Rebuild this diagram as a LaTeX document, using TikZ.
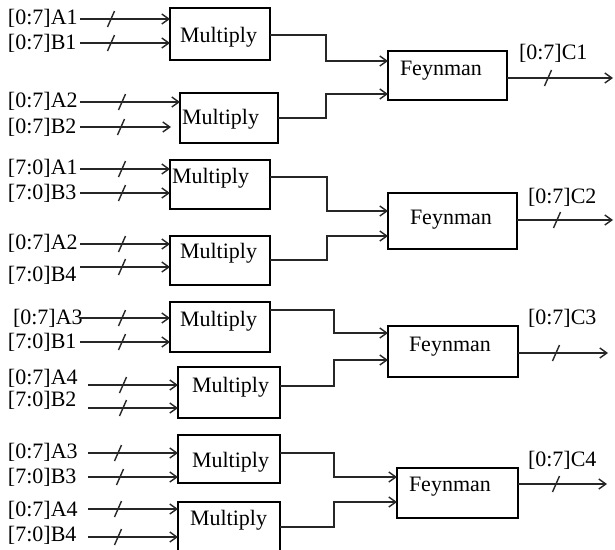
\documentclass[tikz,border=0pt]{standalone}
\usepackage{fontspec}
\setmainfont{Liberation Serif}
\usetikzlibrary{arrows.meta,calc}
\begin{document}
\begin{tikzpicture}[x=1pt,y=-1pt,
  every node/.style={font=\fontsize{22}{24}\selectfont, inner sep=0pt, outer sep=0pt},
  blk/.style={draw=black, line width=2.7pt, rectangle, fill=white},
  lbl/.style={anchor=west},
  txt/.style={anchor=base west},
  sig/.style={draw=black!85, line width=1.4pt, -{Straight Barb[length=7pt,width=10pt,line width=1.4pt]}},
  busmark/.style={draw=black!85, line width=1.4pt}]
\clip (0,0) rectangle (615,549);
\useasboundingbox (0,0) rectangle (615,549);
\fill[white] (0,0) rectangle (615,549);

% ---------- boxes ----------
\node[blk, minimum width=100pt, minimum height=52pt] (m1) at (220,34) {};
\node[blk, minimum width=98pt,  minimum height=50pt] (m2) at (229,118) {};
\node[blk, minimum width=100pt, minimum height=49pt] (m3) at (220,184.5) {};
\node[blk, minimum width=100pt, minimum height=49pt] (m4) at (220,260.5) {};
\node[blk, minimum width=100pt, minimum height=50pt] (m5) at (220,327) {};
\node[blk, minimum width=102pt, minimum height=51pt] (m6) at (229,392.5) {};
\node[blk, minimum width=102pt, minimum height=48pt] (m7) at (229,459) {};
\node[blk, minimum width=102pt, minimum height=58pt] (m8) at (229,531) {};
\node[blk, minimum width=119pt, minimum height=49pt] (f1) at (447.5,75.5) {};
\node[blk, minimum width=129pt, minimum height=56pt] (f2) at (452.5,221) {};
\node[blk, minimum width=130pt, minimum height=51pt] (f3) at (453,351.5) {};
\node[blk, minimum width=121pt, minimum height=50pt] (f4) at (457.5,493) {};

% ---------- box texts ----------
\node[txt] (tm1) at (180,42) {Multiply};
\node[txt] (tm2) at (182,124) {Multiply};
\node[txt] (tm3) at (172,183) {Multiply};
\node[txt] (tm4) at (180,258) {Multiply};
\node[txt] (tm5) at (180,326) {Multiply};
\node[txt] (tm6) at (192,392) {Multiply};
\node[txt] (tm7) at (192,467) {Multiply};
\node[txt] (tm8) at (190,525) {Multiply};
\node[txt] (tf1) at (400,75) {Feynman};
\node[txt] (tf2) at (410,224) {Feynman};
\node[txt] (tf3) at (409,351) {Feynman};
\node[txt] (tf4) at (409,491) {Feynman};

% ---------- input labels ----------
\node[lbl] (la1) at (8,18.5) {[0:7]A1};
\node[lbl] (lb1) at (8,43.5) {[0:7]B1};
\node[lbl] (la2) at (8,101) {[0:7]A2};
\node[lbl] (lb2) at (8,127) {[0:7]B2};
\node[lbl] (la3) at (8,168) {[7:0]A1};
\node[lbl] (lb3) at (8,193) {[7:0]B3};
\node[lbl] (la4) at (8,243) {[0:7]A2};
\node[lbl] (lb4) at (8,275) {[7:0]B4};
\node[lbl] (la5) at (13,318) {[0:7]A3};
\node[lbl] (lb5) at (8,342) {[7:0]B1};
\node[lbl] (la6) at (8,378) {[0:7]A4};
\node[lbl] (lb6) at (8,400) {[7:0]B2};
\node[lbl] (la7) at (8,452) {[0:7]A3};
\node[lbl] (lb7) at (8,477) {[7:0]B3};
\node[lbl] (la8) at (8,510) {[0:7]A4};
\node[lbl] (lb8) at (8,535) {[7:0]B4};

% ---------- output labels ----------
\node[lbl] (lc1) at (519,53) {[0:7]C1};
\node[lbl] (lc2) at (528,197) {[0:7]C2};
\node[lbl] (lc3) at (528,318) {[0:7]C3};
\node[lbl] (lc4) at (528,460) {[0:7]C4};

% ---------- input wire starts ----------
\coordinate (sa1) at (80,19);
\coordinate (sb1) at (80,43);
\coordinate (sa2) at (80,102);
\coordinate (sb2) at (80,127);
\coordinate (sa3) at (80,169);
\coordinate (sb3) at (80,193);
\coordinate (sa4) at (80,244);
\coordinate (sb4) at (80,267);
\coordinate (sa5) at (80,318);
\coordinate (sb5) at (80,342);
\coordinate (sa6) at (88,385);
\coordinate (sb6) at (88,408);
\coordinate (sa7) at (88,453);
\coordinate (sb7) at (88,477);
\coordinate (sa8) at (88,509);
\coordinate (sb8) at (88,537);

% ---------- input arrows ----------
\draw[sig] (sa1) -- (m1.west |- sa1);
\draw[sig] (sb1) -- (m1.west |- sb1);
\draw[sig] (sa2) -- (m2.west |- sa2);
\draw[sig, shorten >=9pt] (sb2) -- (m2.west |- sb2);
\draw[sig] (sa3) -- (m3.west |- sa3);
\draw[sig] (sb3) -- (m3.west |- sb3);
\draw[sig] (sa4) -- (m4.west |- sa4);
\draw[sig] (sb4) -- (m4.west |- sb4);
\draw[sig] (sa5) -- (m5.west |- sa5);
\draw[sig] (sb5) -- (m5.west |- sb5);
\draw[sig] (sa6) -- (m6.west |- sa6);
\draw[sig] (sb6) -- (m6.west |- sb6);
\draw[sig] (sa7) -- (m7.west |- sa7);
\draw[sig] (sb7) -- (m7.west |- sb7);
\draw[sig] (sa8) -- (m8.west |- sa8);
\draw[sig] (sb8) -- (m8.west |- sb8);

% ---------- bus marks ----------
\foreach \x/\y in {111/19,111/43,122/102,121/127,122/169,122/193,122/244,122/267,
                   122/318,122/342,123/385,123/408,118/453,120/477,118/509,118/537,
                   548/78,557/220,556/353,556/484}
  \draw[busmark] (\x,\y) +(-3.5,8) -- +(3.5,-8);

% ---------- multiply -> feynman ----------
\draw[sig] (m1.east |- 0,35)  -| (326,61)  -- (f1.west |- 0,61);
\draw[sig] (m2.east |- 0,118) -| (326,94)  -- (f1.west |- 0,94);
\draw[sig] (m3.east |- 0,177) -| (327,211) -- (f2.west |- 0,211);
\draw[sig] (m4.east |- 0,260) -| (327,236) -- (f2.west |- 0,236);
\draw[sig] (m5.east |- 0,310) -| (334,333) -- (f3.west |- 0,333);
\draw[sig] (m6.east |- 0,386) -| (334,360) -- (f3.west |- 0,360);
\draw[sig] (m7.east |- 0,453) -| (334,477) -- (f4.west |- 0,477);
\draw[sig] (m8.east |- 0,527) -| (334,502) -- (f4.west |- 0,502);

% ---------- outputs ----------
\coordinate (o1) at (613,78);
\coordinate (o2) at (613,220);
\coordinate (o3) at (608,353);
\coordinate (o4) at (607,484);
\draw[sig] (f1.east |- o1) -- (o1);
\draw[sig] (f2.east |- o2) -- (o2);
\draw[sig] (f3.east |- o3) -- (o3);
\draw[sig] (f4.east |- o4) -- (o4);
\end{tikzpicture}
\end{document}
